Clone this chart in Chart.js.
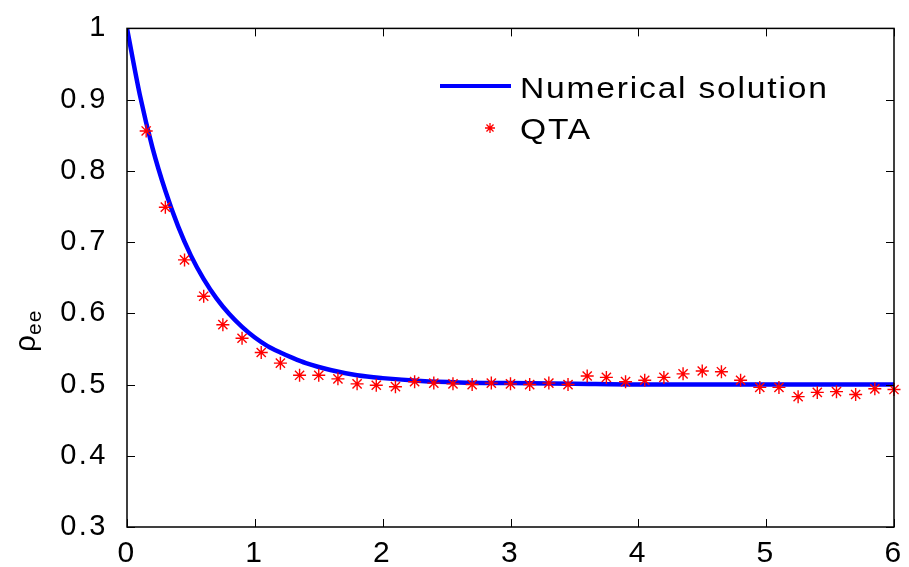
<!DOCTYPE html>
<html>
<head>
<meta charset="utf-8">
<script src="https://cdn.jsdelivr.net/npm/chart.js@4.4.1/dist/chart.umd.min.js"></script>
<style>
  html, body { margin: 0; padding: 0; background: #fff; }
  #wrap { width: 909px; height: 567px; }
</style>
</head>
<body>
<div id="wrap"><canvas id="c" width="909" height="567"></canvas></div>
<script>
// Numerical solution
const numT = [0, 0.1, 0.2, 0.3, 0.4, 0.5, 0.6, 0.7, 0.8, 0.9, 1.0, 1.1, 1.2, 1.3, 1.4, 1.6, 1.8, 2.0, 2.3, 2.6, 3.0, 3.5, 4.0, 5.0, 6.0];
const numRho = [1.0, 0.907, 0.832, 0.772, 0.722, 0.681, 0.648, 0.621, 0.599, 0.581, 0.566, 0.554, 0.545, 0.537, 0.530, 0.520, 0.513, 0.509, 0.505, 0.503, 0.502, 0.501, 0.500, 0.500, 0.500];

// QTA points
const qtaT = [0.15, 0.30, 0.45, 0.60, 0.75, 0.90, 1.05, 1.20, 1.35, 1.50,
              1.65, 1.80, 1.95, 2.10, 2.25, 2.40, 2.55, 2.70, 2.85, 3.00,
              3.15, 3.30, 3.45, 3.60, 3.75, 3.90, 4.05, 4.20, 4.35, 4.50,
              4.65, 4.80, 4.95, 5.10, 5.25, 5.40, 5.55, 5.70, 5.85, 6.00];
const qtaRho = [0.856, 0.749, 0.675, 0.624, 0.584, 0.565, 0.545, 0.530, 0.513, 0.513,
                0.508, 0.501, 0.499, 0.497, 0.504, 0.502, 0.501, 0.500, 0.502, 0.501,
                0.500, 0.502, 0.500, 0.512, 0.510, 0.504, 0.506, 0.510, 0.515, 0.519,
                0.518, 0.506, 0.496, 0.496, 0.483, 0.489, 0.490, 0.486, 0.494, 0.493];

const xTicks = [0, 1, 2, 3, 4, 5, 6];
const yTicks = [0.3, 0.4, 0.5, 0.6, 0.7, 0.8, 0.9, 1];

const seriesNames = ['Numerical solution', 'QTA'];

const FONT = '"Liberation Sans", Arial, Helvetica, sans-serif';

const spacingPlugin = {
  id: 'spacing',
  beforeDraw(chart) { chart.ctx.letterSpacing = '2.5px'; }
};

const framePlugin = {
  id: 'frame',
  afterDatasetsDraw(chart) {
    const ctx = chart.ctx;
    const a = chart.chartArea;
    const xs = chart.scales.x, ys = chart.scales.y;
    ctx.save();
    ctx.strokeStyle = '#000';
    ctx.lineWidth = 1.5;
    ctx.strokeRect(a.left, a.top, a.right - a.left, a.bottom - a.top);
    ctx.lineWidth = 1;
    const L = 8;
    ctx.beginPath();
    xTicks.forEach(v => {
      const px = Math.round(xs.getPixelForValue(v)) + 0.5;
      ctx.moveTo(px, a.bottom); ctx.lineTo(px, a.bottom - L);
      ctx.moveTo(px, a.top); ctx.lineTo(px, a.top + L);
    });
    yTicks.forEach(v => {
      const py = Math.round(ys.getPixelForValue(v)) + 0.5;
      ctx.moveTo(a.left, py); ctx.lineTo(a.left + L, py);
      ctx.moveTo(a.right, py); ctx.lineTo(a.right - L, py);
    });
    ctx.stroke();

    // Legend
    ctx.strokeStyle = '#0000ff';
    ctx.lineWidth = 4;
    ctx.beginPath();
    ctx.moveTo(440, 86); ctx.lineTo(511, 86);
    ctx.stroke();
    ctx.strokeStyle = '#ff0000';
    ctx.lineWidth = 1.3;
    const sx = 490, sy = 128, r = 5;
    ctx.beginPath();
    ctx.moveTo(sx - r, sy); ctx.lineTo(sx + r, sy);
    ctx.moveTo(sx, sy - r); ctx.lineTo(sx, sy + r);
    const d = r * 0.707;
    ctx.moveTo(sx - d, sy - d); ctx.lineTo(sx + d, sy + d);
    ctx.moveTo(sx - d, sy + d); ctx.lineTo(sx + d, sy - d);
    ctx.stroke();
    ctx.fillStyle = '#000';
    ctx.font = '30px ' + FONT;
    ctx.letterSpacing = '1.6px';
    ctx.textAlign = 'left';
    ctx.textBaseline = 'alphabetic';
    ctx.save();
    ctx.translate(520, 0);
    ctx.scale(1.12, 1);
    ctx.fillText(seriesNames[0], 0, 98);
    ctx.fillText(seriesNames[1], 0, 139);
    ctx.restore();

    // Y-axis title rho_ee
    ctx.letterSpacing = '1px';
    ctx.save();
    ctx.translate(35, 352);
    ctx.rotate(-Math.PI / 2);
    ctx.font = '30px ' + FONT;
    ctx.fillText('ρ', 0, 0);
    const w = ctx.measureText('ρ').width;
    ctx.font = '21px ' + FONT;
    ctx.fillText('ee', w - 1, 6);
    ctx.restore();
    ctx.restore();
  }
};

new Chart(document.getElementById('c'), {
  type: 'line',
  data: {
    datasets: [
      {
        label: seriesNames[0],
        data: numT.map((t, i) => ({ x: t, y: numRho[i] })),
        borderColor: '#0000ff',
        borderWidth: 4.5,
        pointRadius: 0,
        cubicInterpolationMode: 'monotone',
        fill: false,
        order: 2
      },
      {
        label: seriesNames[1],
        data: qtaT.map((t, i) => ({ x: t, y: qtaRho[i] })),
        showLine: false,
        pointStyle: 'star',
        pointRadius: 6.5,
        pointBorderWidth: 1.4,
        pointBorderColor: '#ff0000',
        pointBackgroundColor: '#ff0000',
        clip: false,
        order: 1
      }
    ]
  },
  options: {
    responsive: false,
    animation: false,
    devicePixelRatio: 1,
    layout: { padding: { left: 0, right: 15, top: 22, bottom: 0 } },
    plugins: { legend: { display: false }, tooltip: { enabled: false } },
    scales: {
      x: {
        type: 'linear',
        min: 0, max: 6,
        afterBuildTicks(s) { s.ticks = xTicks.map(v => ({ value: v })); },
        afterFit(s) { s.height = 40; },
        grid: { display: false },
        border: { display: false },
        ticks: {
          color: '#000',
          padding: 1,
          font: { family: FONT, size: 30 },
          callback: v => String(v)
        }
      },
      y: {
        type: 'linear',
        min: 0.3, max: 1,
        afterBuildTicks(s) { s.ticks = yTicks.map(v => ({ value: v })); },
        afterFit(s) { s.width = 127; },
        grid: { display: false },
        border: { display: false },
        ticks: {
          color: '#000',
          padding: 11,
          font: { family: FONT, size: 29 },
          callback: v => (Math.abs(v - 1) < 1e-9 ? '1' : Number(v).toFixed(1))
        }
      }
    }
  },
  plugins: [spacingPlugin, framePlugin]
});
</script>
</body>
</html>
